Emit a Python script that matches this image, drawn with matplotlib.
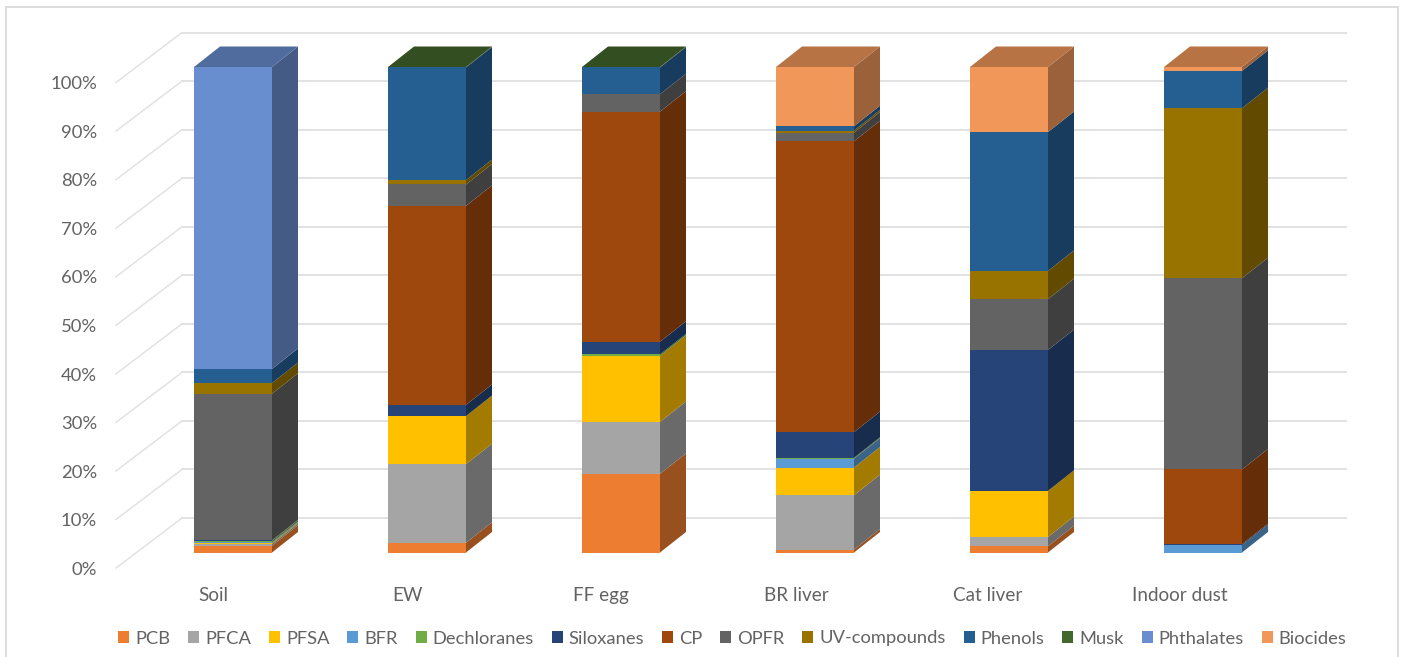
import numpy as np
import matplotlib
matplotlib.use("Agg")
import matplotlib.pyplot as plt
from matplotlib.patches import Patch, Polygon, Rectangle

# Data, stacked share (%) per sample
samples = ["Soil", "EW", "FF egg", "BR liver", "Cat liver", "Indoor dust"]
pcb = [1.4, 2.0, 16.2, 0.6, 1.3, 0]
pfca = [0.35, 16.2, 10.7, 11.2, 1.9, 0]
pfsa = [0.2, 9.9, 13.6, 5.7, 9.5, 0]
bfr = [0.15, 0, 0, 1.8, 0, 1.5]
dechloranes = [0.35, 0, 0.3, 0.2, 0, 0]
siloxanes = [0.05, 2.3, 2.6, 5.3, 29.0, 0.2]
cp = [0, 41.0, 47.4, 59.9, 0, 15.4]
opfr = [30.2, 4.4, 3.6, 1.8, 10.5, 39.4]
uv = [2.2, 0.9, 0, 0.4, 5.8, 35.0]
phenols = [2.9, 23.2, 5.5, 0.9, 28.6, 7.7]
musk = [0, 0.1, 0.1, 0, 0, 0]
phthalates = [62.2, 0, 0, 0, 0, 0]
biocides = [0, 0, 0, 12.2, 13.4, 0.8]

series = [pcb, pfca, pfsa, bfr, dechloranes, siloxanes, cp, opfr, uv, phenols, musk, phthalates, biocides]
names = ["PCB", "PFCA", "PFSA", "BFR", "Dechloranes", "Siloxanes", "CP", "OPFR",
         "UV-compounds", "Phenols", "Musk", "Phthalates", "Biocides"]
colors = ["#ED7D31", "#A5A5A5", "#FFC000", "#5B9BD5", "#70AD47", "#264478", "#9E480E",
          "#636363", "#997300", "#255E91", "#43682B", "#698ED0", "#F1975A"]
y_ticks = [0, 10, 20, 30, 40, 50, 60, 70, 80, 90, 100]

plt.rcParams["font.family"] = ["Lato", "DejaVu Sans"]
TEXT = "#636363"
GRID = "#E2E2E2"

# Pixel scale of the picture: one category = 194 px, 1 % = 4.855 px
W, H = 1405, 657
px_x, px_y = 194.0, 4.855
fig = plt.figure(figsize=(W / 100, H / 100), dpi=100)
ax = fig.add_axes([0, 0, 1, 1])
ax.set_xlim(-233 / px_x, (W - 233) / px_x)
ax.set_ylim(-(H - 552.5) / px_y, 552.5 / px_y)
ax.axis("off")

# Fake 3D depth
bar_w = 78 / px_x
dx, dy = 26 / px_x, 20.5 / px_y

# Walls / grid
left = (116 - 233) / px_x
wall = (182 - 233) / px_x
right = (1346 - 233) / px_x
floor_y, wall_y = -3.2, 7.1
for t in y_ticks:
    ax.plot([wall, right], [t + wall_y, t + wall_y], color=GRID, lw=1.4, zorder=1)
    ax.plot([left, wall], [t + floor_y, t + wall_y], color=GRID, lw=1.1, zorder=1)
    ax.text((97 - 233) / px_x, t + floor_y - 0.35, f"{t}%", ha="right", va="center",
            fontsize=13.3, color=TEXT)


def shade(c, f):
    r, g, b = matplotlib.colors.to_rgb(c)
    return (r * f, g * f, b * f)


x = np.arange(len(samples))
bottom = np.zeros(len(samples))
for vals, col, name in zip(series, colors, names):
    vals = np.array(vals, dtype=float)
    ax.bar(x, vals, bottom=bottom, width=bar_w, color=col, zorder=3, linewidth=0)
    top = bottom + vals
    for i in x:
        if vals[i] == 0:
            continue
        xr = x[i] + bar_w / 2
        ax.add_patch(Polygon([(xr, bottom[i]), (xr + dx, bottom[i] + dy),
                              (xr + dx, top[i] + dy), (xr, top[i])],
                             closed=True, facecolor=shade(col, 0.64), linewidth=0, zorder=3))
        # cap only on the last non-empty series of the stack
        if abs(top[i] - 100) < 0.01:
            xl = x[i] - bar_w / 2
            ax.add_patch(Polygon([(xl, top[i]), (xr, top[i]), (xr + dx, top[i] + dy),
                                  (xl + dx, top[i] + dy)],
                                 closed=True, facecolor=shade(col, 0.76), linewidth=0, zorder=3))
    bottom = top

label_off = [-20, -20, -20, -19, -21, -23]
for i, s in enumerate(samples):
    ax.text(i + label_off[i] / px_x, -8.85, s, ha="center", va="center", fontsize=13.6, color=TEXT)

handles = [Patch(facecolor=c, linewidth=0, label=n) for c, n in zip(colors, names)]
ax.legend(handles=handles, ncol=13, loc="center", bbox_to_anchor=(732.5 / W, 1 - 638.5 / H),
          frameon=False, fontsize=13.2, labelcolor=TEXT, handlelength=0.6, handleheight=0.6,
          handletextpad=0.33, columnspacing=0.97, borderpad=0, borderaxespad=0)

# Outer frame, runs off the bottom of the image
fig.add_artist(Rectangle((6.5 / W, -0.02), (1398 - 6.5) / W, 1.02 - 7 / H, transform=fig.transFigure,
                         fill=False, edgecolor="#DADADA", linewidth=1.3))

fig.savefig("out.png", dpi=100)
